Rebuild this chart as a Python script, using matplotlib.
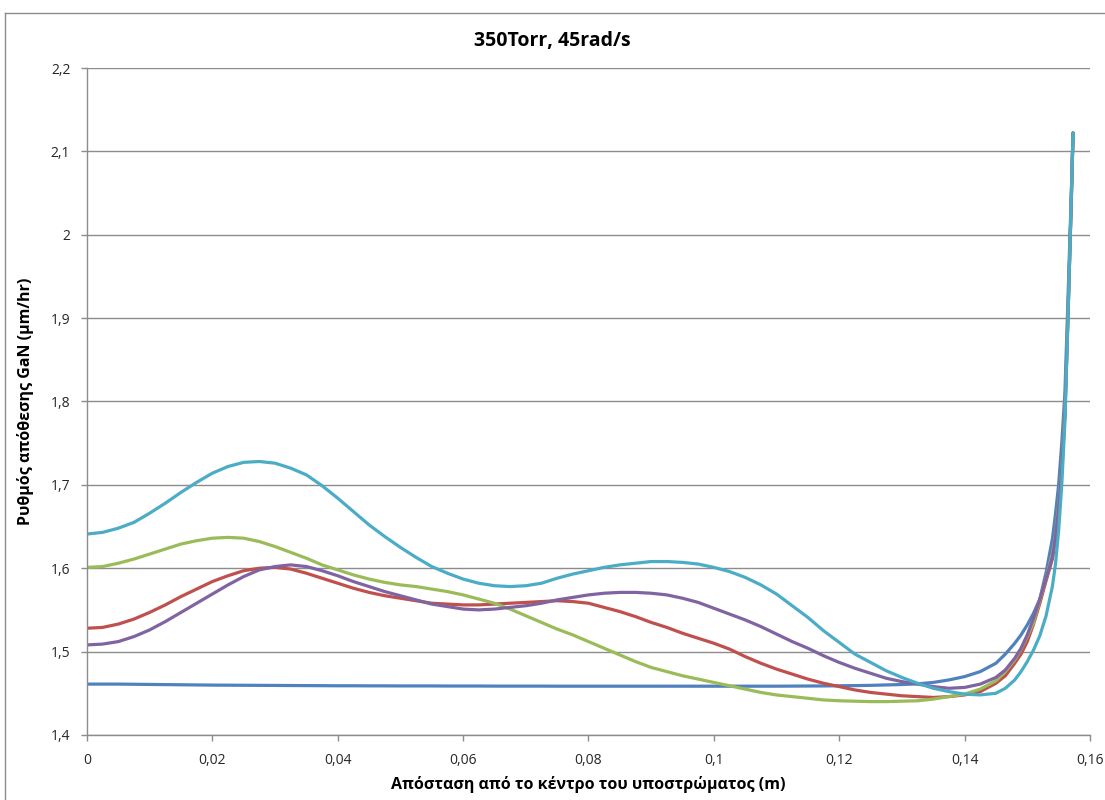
import numpy as np
import matplotlib
matplotlib.use("Agg")
import matplotlib.pyplot as plt
from matplotlib.ticker import FuncFormatter, MultipleLocator
from matplotlib.lines import Line2D

plt.rcParams["font.family"] = ["Open Sans", "DejaVu Sans"]

# distance from substrate centre (m)
x = [0.0000, 0.0025, 0.0050, 0.0075, 0.0100, 0.0125, 0.0150, 0.0175, 0.0200, 0.0225,
     0.0250, 0.0275, 0.0300, 0.0325, 0.0350, 0.0375, 0.0400, 0.0425, 0.0450, 0.0475,
     0.0500, 0.0525, 0.0550, 0.0575, 0.0600, 0.0625, 0.0650, 0.0675, 0.0700, 0.0725,
     0.0750, 0.0775, 0.0800, 0.0825, 0.0850, 0.0875, 0.0900, 0.0925, 0.0950, 0.0975,
     0.1000, 0.1025, 0.1050, 0.1075, 0.1100, 0.1125, 0.1150, 0.1175, 0.1200, 0.1225,
     0.1250, 0.1275, 0.1300, 0.1325, 0.1350, 0.1375, 0.1400, 0.1425, 0.1450,
     0.1465, 0.1480, 0.1490, 0.1500, 0.1510, 0.1520, 0.1530, 0.1540, 0.1545, 0.1550,
     0.1555, 0.1560, 0.1565, 0.1570, 0.1573]

blue = [1.461, 1.461, 1.461, 1.4608, 1.4606, 1.4604, 1.4602, 1.4600, 1.4598, 1.4597,
        1.4596, 1.4595, 1.4594, 1.4593, 1.4592, 1.4591, 1.4590, 1.4590, 1.4589, 1.4589,
        1.4588, 1.4588, 1.4588, 1.4587, 1.4587, 1.4587, 1.4586, 1.4586, 1.4586, 1.4586,
        1.4585, 1.4585, 1.4585, 1.4585, 1.4585, 1.4585, 1.4585, 1.4585, 1.4585, 1.4585,
        1.4585, 1.4585, 1.4585, 1.4585, 1.4585, 1.4586, 1.4587, 1.4588, 1.4590, 1.4592,
        1.4595, 1.4600, 1.4605, 1.4613, 1.463, 1.466, 1.470, 1.476, 1.486,
        1.497, 1.510, 1.520, 1.532, 1.546, 1.563, 1.595, 1.635, 1.665, 1.700,
        1.750, 1.810, 1.925, 2.045, 2.122]

red = [1.528, 1.529, 1.533, 1.539, 1.547, 1.556, 1.566, 1.575, 1.584, 1.591,
       1.597, 1.600, 1.601, 1.599, 1.594, 1.588, 1.582, 1.576, 1.571, 1.567,
       1.564, 1.561, 1.558, 1.557, 1.556, 1.556, 1.557, 1.558, 1.559, 1.560,
       1.561, 1.560, 1.558, 1.553, 1.548, 1.542, 1.535, 1.529, 1.522, 1.516,
       1.510, 1.503, 1.494, 1.486, 1.479, 1.473, 1.467, 1.462, 1.458, 1.454,
       1.451, 1.449, 1.447, 1.446, 1.445, 1.446, 1.448, 1.452, 1.462,
       1.471, 1.486, 1.497, 1.512, 1.533, 1.558, 1.585, 1.611, 1.635, 1.670,
       1.715, 1.785, 1.905, 2.035, 2.122]

green = [1.601, 1.602, 1.606, 1.611, 1.617, 1.623, 1.629, 1.633, 1.636, 1.637,
         1.636, 1.632, 1.626, 1.619, 1.612, 1.604, 1.598, 1.592, 1.587, 1.583,
         1.580, 1.578, 1.575, 1.572, 1.568, 1.563, 1.558, 1.551, 1.543, 1.535,
         1.527, 1.520, 1.512, 1.504, 1.496, 1.488, 1.481, 1.476, 1.471, 1.467,
         1.463, 1.459, 1.455, 1.451, 1.448, 1.446, 1.444, 1.442, 1.441, 1.4405,
         1.440, 1.440, 1.4405, 1.441, 1.443, 1.446, 1.449, 1.455, 1.465,
         1.476, 1.490, 1.503, 1.518, 1.535, 1.562, 1.588, 1.617, 1.640, 1.675,
         1.720, 1.790, 1.910, 2.035, 2.122]

purple = [1.508, 1.509, 1.512, 1.518, 1.526, 1.536, 1.547, 1.558, 1.569, 1.580,
          1.590, 1.598, 1.602, 1.604, 1.602, 1.597, 1.591, 1.584, 1.578, 1.572,
          1.567, 1.562, 1.557, 1.554, 1.551, 1.550, 1.551, 1.553, 1.555, 1.558,
          1.562, 1.565, 1.568, 1.570, 1.571, 1.571, 1.570, 1.568, 1.564, 1.559,
          1.552, 1.545, 1.538, 1.530, 1.521, 1.512, 1.504, 1.495, 1.487, 1.480,
          1.474, 1.468, 1.464, 1.461, 1.458, 1.456, 1.457, 1.461, 1.469,
          1.478, 1.492, 1.504, 1.520, 1.540, 1.563, 1.588, 1.613, 1.638, 1.672,
          1.718, 1.785, 1.905, 2.035, 2.122]

teal = [1.641, 1.643, 1.648, 1.655, 1.666, 1.678, 1.691, 1.703, 1.714, 1.722,
        1.727, 1.728, 1.726, 1.720, 1.712, 1.699, 1.684, 1.668, 1.652, 1.638,
        1.625, 1.613, 1.602, 1.594, 1.587, 1.582, 1.579, 1.578, 1.579, 1.582,
        1.588, 1.593, 1.597, 1.601, 1.604, 1.606, 1.608, 1.608, 1.607, 1.605,
        1.601, 1.596, 1.589, 1.580, 1.569, 1.555, 1.541, 1.525, 1.511, 1.497,
        1.487, 1.477, 1.469, 1.462, 1.456, 1.452, 1.449, 1.448, 1.450,
        1.456, 1.466, 1.476, 1.488, 1.502, 1.519, 1.543, 1.578, 1.605, 1.645,
        1.700, 1.775, 1.900, 2.040, 2.122]

series = [blue, red, green, purple, teal]
colors = ["#4F81BD", "#C0504D", "#9BBB59", "#8064A2", "#4BACC6"]


def comma(v, pos):
    return ("%g" % round(v, 3)).replace(".", ",")


fig = plt.figure(figsize=(11.05, 8.0), dpi=100)
ax = fig.add_axes([0.0787, 0.0813, 0.9077, 0.8337])

for ys, c in zip(series, colors):
    ax.plot(x, ys, color=c, lw=2.3, solid_joinstyle="round", solid_capstyle="round")

ax.set_xlim(0, 0.16)
ax.set_ylim(1.4, 2.2)
ax.xaxis.set_major_locator(MultipleLocator(0.02))
ax.yaxis.set_major_locator(MultipleLocator(0.1))
ax.xaxis.set_major_formatter(FuncFormatter(comma))
ax.yaxis.set_major_formatter(FuncFormatter(comma))
ax.grid(axis="y", color="#8c8c8c", lw=1.0)
ax.set_axisbelow(True)

for s in ["top", "right"]:
    ax.spines[s].set_visible(False)
for s in ["left", "bottom"]:
    ax.spines[s].set_color("#8c8c8c")
    ax.spines[s].set_linewidth(1.0)
ax.tick_params(axis="both", colors="#8c8c8c", labelcolor="#262626",
               labelsize=10, length=4, width=1.0)
ax.tick_params(axis="y", pad=8)
ax.tick_params(axis="x", pad=9)

ax.set_xlabel("Απόσταση από το κέντρο του υποστρώματος (m)",
              fontsize=11.5, fontweight="bold", labelpad=6)
ax.set_ylabel("Ρυθμός απόθεσης GaN (μm/hr)",
              fontsize=11.5, fontweight="bold", labelpad=12)
fig.text(0.5, 0.949, "350Torr, 45rad/s", ha="center", va="center",
         fontsize=14, fontweight="bold")

# chart area border (top and left edges visible)
fig.add_artist(Line2D([0.0045, 1.0], [0.984, 0.984], transform=fig.transFigure,
                      color="#8c8c8c", lw=1.0))
fig.add_artist(Line2D([0.0045, 0.0045], [0.0, 0.984], transform=fig.transFigure,
                      color="#8c8c8c", lw=1.0))

fig.savefig("out.png", dpi=100)
